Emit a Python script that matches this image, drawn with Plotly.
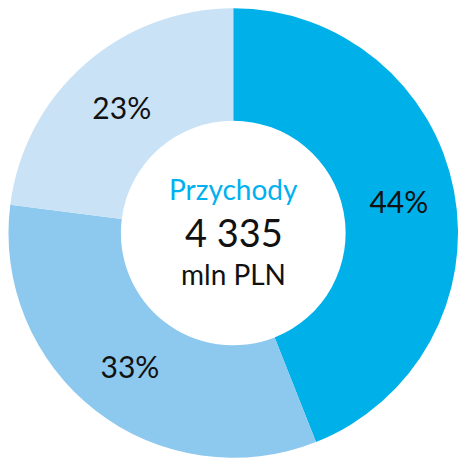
import plotly.graph_objects as go

labels = ["Segment A", "Segment B", "Segment C"]
values = [44, 33, 23]
colors = ["#00B0E8", "#8DC8EE", "#C9E2F6"]
center_title = "Przychody"
center_value = "4 335"
center_unit = "mln PLN"

W, H = 458, 460
cx, cy, r = 233.5, 233, 225

fig = go.Figure(go.Pie(
    labels=labels,
    values=values,
    sort=False,
    direction="clockwise",
    rotation=0,
    hole=0.5,
    marker=dict(colors=colors, line=dict(width=0)),
    texttemplate="%{value}%",
    textposition="inside",
    insidetextorientation="horizontal",
    textfont=dict(family="Lato", size=30, color="#111111"),
    domain=dict(x=[max(0, (cx - r) / W), min(1, (cx + r) / W)],
                y=[max(0, (H - cy - r) / H), min(1, (H - cy + r) / H)]),
    showlegend=False,
    hoverinfo="skip",
))

font = "Lato"
fig.add_annotation(x=cx / W, y=1 - 189 / H, xref="paper", yref="paper", text=center_title,
                   showarrow=False, font=dict(family=font, size=28, color="#00B0F0"))
fig.add_annotation(x=cx / W, y=1 - 232 / H, xref="paper", yref="paper", text=center_value,
                   showarrow=False, font=dict(family=font, size=38, color="#111111"))
fig.add_annotation(x=cx / W, y=1 - 274 / H, xref="paper", yref="paper", text=center_unit,
                   showarrow=False, font=dict(family=font, size=28, color="#111111"))

fig.update_layout(width=W, height=H, margin=dict(l=0, r=0, t=0, b=0),
                  paper_bgcolor="white", plot_bgcolor="white")
fig.write_html(
    "out.html",
    config={"displayModeBar": False},
    post_script="document.body.style.margin='0';document.body.style.overflow='hidden';",
)
